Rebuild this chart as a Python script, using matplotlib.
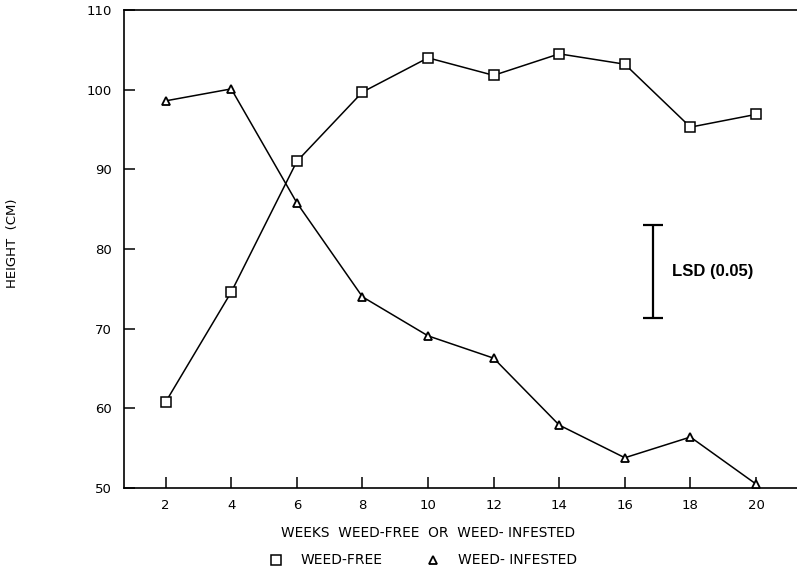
# ____________________________________________________________
# import modules
import matplotlib
matplotlib.use('Agg')
import matplotlib.pyplot as plt
from matplotlib.lines import Line2D


# ____________________________________________________________
# data

weeks = [2, 4, 6, 8, 10, 12, 14, 16, 18, 20]
weed_free = [60.8, 74.6, 91.0, 99.7, 104.0, 101.8, 104.5, 103.2, 95.3, 96.9]
weed_infested = [98.6, 100.1, 85.8, 74.0, 69.1, 66.3, 57.9, 53.8, 56.4, 50.5]

lsd_x = 16.85
lsd_low, lsd_high = 71.3, 83.0

xticks = [2, 4, 6, 8, 10, 12, 14, 16, 18, 20]
yticks = [50, 60, 70, 80, 90, 100, 110]


# ____________________________________________________________
# plot

plt.rcParams['font.family'] = 'DejaVu Sans'
fig = plt.figure(figsize=(7.97, 5.73), dpi=100)
ax = fig.add_axes([0.1556, 0.1483, 0.8444, 0.8342])

ax.plot(weeks, weed_free, color='black', lw=1.1, marker='s', ms=6.5,
        mfc='white', mec='black', mew=1.1, zorder=3)
ax.plot(weeks, weed_infested, color='black', lw=1.1, marker='^', ms=6.0,
        mfc='white', mec='black', mew=1.3, zorder=3)

# LSD bar
ax.errorbar([lsd_x], [(lsd_low + lsd_high) / 2], yerr=[(lsd_high - lsd_low) / 2],
            fmt='none', ecolor='black', elinewidth=1.6, capsize=7, capthick=1.6)
ax.text(lsd_x + 0.58, (lsd_low + lsd_high) / 2, 'LSD (0.05)', fontsize=12,
        fontweight='bold', family='Liberation Sans', va='center', ha='left')

ax.set_xlim(0.73, 21.25)
ax.set_ylim(50, 110)
ax.set_xticks(xticks)
ax.set_yticks(yticks)
ax.tick_params(direction='in', length=8, width=1.1, labelsize=9.5, pad=8)
ax.tick_params(axis='y', pad=9)
ax.spines['right'].set_visible(False)
for s in ['left', 'top', 'bottom']:
    ax.spines[s].set_linewidth(1.2)

fig.text(0.537, 0.07, 'WEEKS  WEED-FREE  OR  WEED- INFESTED', fontsize=9.9,
         ha='center', va='center')
fig.text(0.016, 0.576, 'HEIGHT  (CM)', rotation=90, fontsize=9.5, ha='center', va='center')

handles = [Line2D([], [], ls='none', marker='s', ms=6.5, mfc='white', mec='black', mew=1.1),
           Line2D([], [], ls='none', marker='^', ms=6.0, mfc='white', mec='black', mew=1.3)]
fig.legend(handles, ['WEED-FREE', 'WEED- INFESTED'], loc='center', ncol=2,
           bbox_to_anchor=(0.53, 0.022), frameon=False, fontsize=10,
           handlelength=1.2, handletextpad=1.2, columnspacing=3.0)

plt.savefig('out.png', dpi=100)
